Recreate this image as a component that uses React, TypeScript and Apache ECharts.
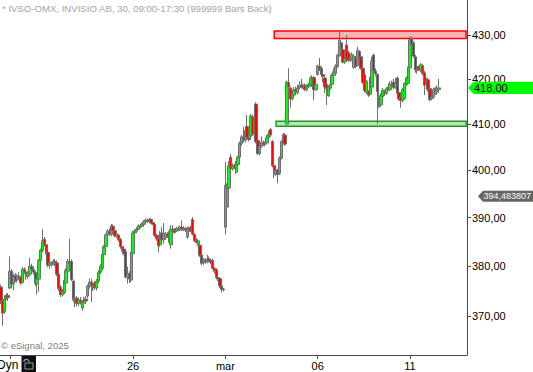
import React, { useEffect, useRef } from 'react';
import * as echarts from 'echarts';

// Trading days shown (30-minute bars, 09:00-17:00 bar starts)
const days = ['Feb 19', 'Feb 20', 'Feb 21', 'Feb 24', 'Feb 25', 'Feb 26', 'Feb 27', 'Feb 28', 'Mar 3', 'Mar 4', 'Mar 5', 'Mar 6', 'Mar 7', 'Mar 10', 'Mar 11'];
const sessionTimes = ['09:00', '09:30', '10:00', '10:30', '11:00', '11:30', '12:00', '12:30', '13:00', '13:30', '14:00', '14:30', '15:00', '15:30', '16:00', '16:30', '17:00'];

// OHLC rows: [open, high, low, close]
const feb19 = [
  [375.8, 376.3, 372.4, 373.0], [373.0, 374.0, 368.1, 370.6], [370.9, 374.2, 370.5, 373.4], [373.4, 374.5, 373.2, 374.1], [374.1, 374.6, 373.0, 373.7],
];
const feb20 = [
  [375.6, 382.0, 375.4, 379.0], [379.0, 379.4, 375.8, 376.4], [376.4, 378.5, 375.2, 377.8], [378.2, 378.6, 376.8, 377.2], [377.2, 378.4, 376.7, 378.0],
  [378.0, 378.8, 377.3, 377.8], [377.8, 378.0, 376.2, 376.6], [376.7, 379.8, 376.5, 379.4], [379.4, 379.8, 378.4, 378.8], [378.8, 379.2, 377.3, 378.0],
  [378.0, 379.0, 377.4, 378.6], [378.4, 381.7, 378.0, 380.0], [380.0, 380.5, 379.0, 379.4], [379.4, 380.0, 378.3, 378.8], [378.8, 379.0, 376.0, 376.5],
  [376.4, 378.0, 374.3, 377.4], [377.4, 381.5, 374.8, 381.2],
];
const feb21 = [
  [381.2, 383.6, 380.8, 383.3], [383.2, 387.6, 382.8, 385.2], [385.5, 386.0, 384.0, 384.4], [384.4, 384.8, 382.4, 382.8], [382.8, 383.2, 379.8, 380.2],
  [380.2, 381.2, 379.5, 380.8], [380.3, 381.0, 379.9, 380.7], [380.7, 381.4, 380.2, 381.0], [381.0, 381.5, 380.0, 380.6], [380.7, 381.2, 378.0, 378.4],
  [378.4, 378.8, 375.0, 375.5], [375.8, 376.2, 373.8, 374.3], [374.3, 375.4, 373.9, 374.9], [374.7, 377.6, 374.4, 377.2], [376.6, 379.6, 376.3, 379.2],
  [379.0, 381.5, 378.6, 381.0], [381.0, 385.6, 380.2, 380.6],
];
const feb24 = [
  [381.0, 381.4, 377.0, 377.3], [377.0, 377.3, 372.8, 373.2], [373.2, 374.2, 371.8, 373.6], [373.6, 374.0, 371.9, 372.5], [372.5, 373.5, 372.0, 373.2],
  [373.2, 373.8, 372.3, 372.8], [371.6, 373.2, 371.1, 372.8], [372.6, 373.8, 372.0, 373.4], [373.4, 374.0, 372.4, 373.0], [374.0, 376.3, 373.6, 376.0],
  [376.0, 377.5, 375.5, 376.8], [376.8, 377.4, 372.8, 376.0], [376.0, 376.8, 375.0, 375.6], [376.6, 377.0, 375.2, 375.8], [375.6, 377.4, 375.1, 377.0],
  [377.0, 379.2, 376.5, 378.8], [378.8, 380.4, 378.4, 380.0],
];
const feb25 = [
  [379.6, 382.8, 379.2, 382.4], [382.4, 384.3, 382.2, 384.0], [384.0, 386.7, 383.8, 386.4], [386.4, 387.6, 386.1, 387.2], [387.2, 387.8, 386.2, 386.6],
  [386.5, 388.7, 386.1, 388.3], [388.2, 388.6, 387.0, 387.3], [387.3, 387.6, 385.9, 386.2], [386.2, 387.0, 385.8, 386.6], [386.4, 386.6, 385.0, 385.4],
  [385.5, 385.8, 383.6, 384.0], [384.0, 384.6, 383.0, 383.5], [383.5, 384.0, 382.2, 382.6], [383.0, 383.4, 377.5, 377.8], [377.8, 379.9, 376.5, 378.5],
  [378.5, 379.0, 376.6, 377.4], [377.2, 383.0, 376.8, 382.6],
];
const feb26 = [
  [382.6, 387.3, 382.3, 386.8], [386.8, 387.6, 386.3, 387.2], [387.2, 388.0, 386.8, 387.6], [387.6, 388.6, 387.4, 388.3], [388.3, 388.7, 387.8, 388.1],
  [388.2, 389.0, 388.0, 388.6], [388.6, 389.5, 388.3, 389.1], [389.1, 389.8, 388.8, 389.5], [389.5, 389.8, 388.9, 389.2], [389.2, 389.9, 389.0, 389.6],
  [389.6, 389.9, 388.7, 388.9], [389.0, 389.4, 388.4, 388.6], [388.6, 388.8, 386.0, 386.3], [386.4, 386.6, 385.2, 385.6], [385.8, 386.4, 382.8, 384.2],
  [384.4, 387.2, 384.0, 386.8], [386.8, 388.0, 385.0, 385.4],
];
const feb27 = [
  [385.4, 388.9, 384.6, 386.8], [385.8, 387.0, 385.4, 386.6], [386.6, 387.0, 385.8, 386.2], [386.2, 387.2, 384.8, 385.0], [384.4, 388.4, 383.6, 387.6],
  [387.6, 388.4, 386.8, 387.2], [387.4, 387.8, 386.6, 386.9], [387.2, 388.1, 387.0, 387.8], [387.8, 388.2, 387.2, 387.5], [387.5, 388.3, 387.2, 388.0],
  [388.0, 389.4, 387.2, 387.5], [387.5, 388.2, 387.2, 387.8], [387.8, 388.0, 387.0, 387.4], [386.0, 388.2, 385.6, 387.6], [387.6, 388.0, 386.8, 387.2],
  [388.0, 388.3, 387.0, 387.4], [389.6, 390.1, 386.3, 386.6],
];
const feb28 = [
  [386.5, 386.8, 384.9, 385.2], [385.4, 385.8, 384.6, 384.9], [384.4, 385.5, 384.1, 385.2], [384.3, 384.6, 381.9, 382.2], [382.3, 382.6, 380.2, 380.6],
  [380.7, 381.7, 380.3, 381.3], [381.3, 381.6, 380.5, 380.9], [380.9, 382.3, 380.6, 381.5], [381.5, 382.0, 380.8, 381.2], [381.2, 381.5, 380.4, 380.8],
  [381.2, 381.5, 379.3, 379.6], [379.6, 379.8, 378.5, 379.0], [379.3, 379.6, 377.4, 377.7], [377.7, 378.0, 377.0, 377.4], [377.5, 377.8, 375.6, 376.0],
  [376.0, 376.2, 374.7, 375.3], [375.3, 375.6, 374.9, 375.4],
];
const mar3 = [
  [388.0, 401.8, 386.5, 396.8], [392.2, 397.2, 391.8, 396.2], [396.2, 402.0, 395.8, 401.0], [402.8, 403.5, 399.8, 400.3], [400.3, 401.5, 399.9, 401.0],
  [401.0, 401.4, 400.2, 400.6], [399.6, 402.0, 399.2, 401.5], [401.2, 403.1, 401.0, 402.8], [402.8, 406.2, 402.6, 405.8], [405.8, 407.6, 405.3, 407.2],
  [407.2, 409.4, 405.9, 406.5], [406.5, 409.0, 406.0, 408.6], [409.5, 412.0, 406.5, 407.0], [407.0, 408.0, 406.2, 406.6], [407.3, 412.2, 407.0, 411.8],
  [411.6, 412.0, 407.4, 407.8], [407.8, 409.0, 407.5, 408.5],
];
const mar4 = [
  [414.4, 414.8, 405.8, 406.2], [406.4, 408.2, 403.2, 403.6], [403.6, 405.6, 403.2, 405.2], [405.2, 407.3, 404.8, 406.0], [406.0, 406.4, 405.2, 405.6],
  [405.6, 406.2, 405.1, 405.9], [405.9, 407.6, 405.6, 407.0], [407.0, 408.6, 406.2, 407.8], [408.8, 409.2, 407.2, 407.6], [406.2, 406.5, 400.6, 401.0],
  [401.0, 401.5, 398.3, 399.2], [399.2, 400.4, 398.8, 400.0], [400.1, 400.3, 397.2, 399.1], [399.3, 403.0, 399.0, 402.6], [402.6, 406.5, 402.3, 406.2],
  [406.2, 408.0, 405.9, 407.7], [407.6, 408.0, 405.2, 405.6],
];
const mar5 = [
  [410.0, 419.6, 409.8, 419.3], [419.2, 422.4, 417.8, 418.2], [418.0, 418.3, 413.6, 415.5], [415.6, 417.0, 415.2, 416.6], [416.4, 418.2, 416.1, 417.6],
  [417.6, 418.3, 416.8, 417.2], [416.9, 418.7, 416.5, 418.0], [418.0, 419.5, 417.7, 418.6], [418.6, 420.0, 417.9, 418.2], [418.2, 419.0, 417.8, 418.6],
  [418.6, 419.0, 417.3, 417.6], [417.6, 418.8, 417.2, 418.4], [418.2, 419.2, 417.9, 418.8], [418.6, 420.6, 418.3, 420.2], [418.4, 420.8, 418.2, 420.3],
  [420.3, 420.6, 415.3, 417.6], [417.6, 419.2, 417.4, 418.8],
];
const mar6 = [
  [421.0, 423.2, 420.8, 422.9], [422.9, 424.7, 421.8, 422.2], [422.4, 422.8, 420.5, 421.0], [421.0, 421.6, 419.2, 420.6], [420.2, 420.6, 416.8, 418.2],
  [418.8, 419.2, 414.2, 417.8], [416.2, 418.6, 416.0, 418.2], [418.0, 419.3, 417.6, 418.8], [418.8, 421.2, 418.5, 420.8], [420.8, 422.4, 420.2, 421.6],
  [421.2, 423.3, 420.9, 422.9], [422.8, 425.7, 422.5, 425.4], [425.2, 431.0, 425.0, 428.8], [428.2, 428.6, 426.2, 426.6], [426.6, 427.0, 423.5, 423.8],
  [423.8, 425.6, 423.4, 424.6], [427.7, 430.0, 423.8, 424.2],
];
const mar7 = [
  [426.0, 426.4, 423.8, 424.2], [424.2, 425.6, 423.8, 425.2], [424.6, 426.0, 424.2, 425.5], [422.6, 425.3, 422.3, 425.0], [424.8, 425.2, 422.4, 422.8],
  [423.0, 427.3, 422.8, 426.4], [426.2, 426.5, 424.2, 424.6], [425.0, 425.3, 422.1, 422.4], [422.4, 422.8, 418.9, 419.2], [421.0, 421.3, 417.0, 417.4],
  [417.0, 419.8, 416.6, 419.5], [417.2, 417.5, 416.0, 416.4], [416.6, 420.5, 416.2, 420.0], [418.2, 425.0, 418.0, 424.0], [425.4, 425.7, 421.4, 421.8],
  [421.8, 422.4, 420.6, 421.2], [421.0, 421.3, 410.0, 417.2],
];
const mar10 = [
  [413.8, 418.0, 413.6, 416.0], [414.2, 416.8, 413.8, 416.3], [416.0, 418.0, 415.4, 417.5], [417.2, 417.6, 416.2, 416.8], [416.8, 418.2, 416.4, 417.8],
  [417.8, 419.0, 417.4, 418.2], [417.6, 419.5, 417.3, 418.8], [418.8, 419.6, 418.0, 418.6], [419.3, 420.0, 417.7, 418.1], [418.2, 420.3, 417.8, 419.0],
  [420.2, 420.6, 416.5, 416.8], [417.0, 417.3, 415.2, 415.5], [416.0, 416.3, 413.6, 415.2], [415.2, 418.0, 414.8, 417.6], [415.6, 419.3, 415.3, 419.0],
  [418.8, 420.6, 418.4, 420.2], [419.0, 422.8, 418.6, 422.5],
];
const mar11 = [
  [422.5, 429.6, 422.2, 428.9], [429.2, 429.7, 427.3, 427.7], [428.2, 428.6, 424.8, 425.1], [425.0, 425.4, 421.4, 422.0], [422.0, 423.4, 421.2, 422.8],
  [422.8, 423.0, 421.8, 422.0], [422.0, 423.6, 421.6, 423.2], [423.0, 423.4, 420.8, 421.2], [421.4, 421.8, 416.4, 418.6], [418.8, 420.3, 418.5, 420.0],
  [419.8, 420.2, 417.2, 417.6], [417.8, 418.0, 415.0, 415.4], [415.6, 417.9, 415.2, 416.0], [416.0, 418.0, 415.6, 417.6], [416.6, 418.2, 416.4, 418.0],
  [417.2, 418.6, 416.5, 417.6], [417.6, 420.0, 416.8, 418.0],
];
const dayBars = [feb19, feb20, feb21, feb24, feb25, feb26, feb27, feb28, mar3, mar4, mar5, mar6, mar7, mar10, mar11];
const emptySlotsRight = 15;

// Axis ticks
const yTickValues = [370, 380, 390, 400, 410, 420, 430];
const xTickDays = ['Feb 20', 'Feb 26', 'Mar 3', 'Mar 6', 'Mar 11'];
const xTickTexts = ['', '26', 'mar', '06', '11'];

// Horizontal zones [low, high] and their starting bar
const resistanceZone = [429.2, 430.9];
const resistanceStart = 'Mar 4 14:00';
const supportZone = [409.5, 410.6];
const supportStart = 'Mar 4 14:30';

const lastPrice = 418.0;
const indicatorValue = 394.483807;

const titleText = '* IVSO-OMX, INVISIO AB, 30, 09:00-17:30 (999999 Bars Back)';

export default function App() {
  const ref = useRef<HTMLDivElement>(null);
  useEffect(() => {
    const el = ref.current;
    if (!el) return;
    const chart = echarts.init(el, null, { renderer: 'svg' });

    const categories: string[] = [];
    const candles: number[][] = [];
    const dayFirstIndex: Record<string, number> = {};
    dayBars.forEach((bars, d) => {
      const offset = sessionTimes.length - bars.length;
      bars.forEach((b, j) => {
        if (j === 0) dayFirstIndex[days[d]] = categories.length;
        categories.push(days[d] + ' ' + sessionTimes[offset + j]);
        const [o, h, l, c] = b;
        candles.push([Math.log(o), Math.log(c), Math.log(l), Math.log(h)]);
      });
    });
    for (let k = 0; k < emptySlotsRight; k++) categories.push('pad ' + k);
    const lastCat = categories[categories.length - 1];

    const tickIndexText: Record<number, string> = {};
    xTickDays.forEach((d, k) => { tickIndexText[dayFirstIndex[d]] = xTickTexts[k]; });
    const isTick = (idx: number) => tickIndexText[idx] !== undefined;

    const axisColor = '#4a4a4a';
    const font = 'Arial, "Liberation Sans", sans-serif';

    chart.setOption({
      animation: false,
      backgroundColor: '#ffffff',
      grid: { left: 0, right: 66, top: 0, bottom: 17 },
      xAxis: {
        type: 'category',
        data: categories,
        boundaryGap: true,
        axisLine: { show: true, lineStyle: { color: axisColor, width: 1 } },
        axisTick: { show: true, alignWithLabel: true, length: 4, interval: (i: number) => isTick(i), lineStyle: { color: axisColor } },
        axisLabel: {
          interval: (i: number) => isTick(i),
          formatter: (_v: string, i: number) => tickIndexText[i] ?? '',
          color: '#000', fontSize: 11, fontFamily: font, margin: 5,
        },
        splitLine: { show: false },
      },
      yAxis: {
        type: 'value',
        position: 'right',
        min: Math.log(362.4),
        max: Math.log(438.1),
        axisLine: { show: true, lineStyle: { color: axisColor, width: 1 } },
        axisTick: { show: true, length: 4, customValues: yTickValues.map(Math.log), lineStyle: { color: axisColor } },
        axisLabel: {
          customValues: yTickValues.map(Math.log),
          formatter: (v: number) => Math.exp(v).toFixed(2).replace('.', ','),
          color: '#000', fontSize: 11, fontFamily: font, margin: 5,
        },
        splitLine: { show: false },
      },
      series: [
        {
          type: 'candlestick',
          data: candles,
          barWidth: 2.8,
          itemStyle: {
            color: '#00ff00', color0: '#ff0000',
            borderColor: '#6e6e6e', borderColor0: '#6e6e6e', borderWidth: 1,
          },
          markArea: {
            silent: true,
            data: [
              [
                { xAxis: resistanceStart, yAxis: Math.log(resistanceZone[0]), itemStyle: { color: '#f8b4b4', borderColor: '#ff0000', borderWidth: 1.5 } },
                { xAxis: lastCat, yAxis: Math.log(resistanceZone[1]) },
              ],
              [
                { xAxis: supportStart, yAxis: Math.log(supportZone[0]), itemStyle: { color: '#b6e6b6', borderColor: '#1f9a1f', borderWidth: 1.5 } },
                { xAxis: lastCat, yAxis: Math.log(supportZone[1]) },
              ],
            ],
          },
        },
      ],
    });

    const yLast = chart.convertToPixel({ yAxisIndex: 0 }, Math.log(lastPrice)) as number;
    const yInd = chart.convertToPixel({ yAxisIndex: 0 }, Math.log(indicatorValue)) as number;
    const axisX = 467;

    chart.setOption({
      graphic: [
        { type: 'text', x: 2, y: 8, z: 100, style: { text: titleText, fill: '#a4a4a4', font: '9.6px ' + font, verticalAlign: 'middle' } },
        { type: 'text', x: 1, y: 345, z: 100, style: { text: '\u00a9 eSignal, 2025', fill: '#808080', font: '9.5px ' + font, verticalAlign: 'middle' } },
        { type: 'text', x: -3, y: 365, z: 100, style: { text: 'Dyn', fill: '#000', font: '12px ' + font, verticalAlign: 'middle' } },
        { type: 'rect', z: 100, shape: { x: 21.5, y: 356, width: 14.5, height: 16 }, style: { fill: '#111111' } },
        { type: 'arc', z: 101, shape: { cx: 26.5, cy: 362, r: 2.6, startAngle: Math.PI, endAngle: Math.PI * 2 }, style: { stroke: '#9a9a9a', lineWidth: 1.2, fill: 'none' } },
        { type: 'rect', z: 101, shape: { x: 25, y: 363, width: 8, height: 6 }, style: { fill: 'none', stroke: '#9a9a9a', lineWidth: 1 } },
        {
          type: 'polygon', z: 100,
          shape: { points: [[axisX + 1, yLast], [axisX + 6.5, yLast - 6.2], [533, yLast - 6.2], [533, yLast + 6.2], [axisX + 6.5, yLast + 6.2]] },
          style: { fill: '#00ff00' },
        },
        { type: 'text', x: axisX + 7, y: yLast, z: 101, style: { text: lastPrice.toFixed(2).replace('.', ','), fill: '#000', font: '11px ' + font, verticalAlign: 'middle' } },
        {
          type: 'polygon', z: 100,
          shape: { points: [[axisX + 11, yInd], [axisX + 16, yInd - 5.6], [533, yInd - 5.6], [533, yInd + 5.6], [axisX + 16, yInd + 5.6]] },
          style: { fill: '#666666' },
        },
        { type: 'text', x: axisX + 16.5, y: yInd, z: 101, style: { text: String(indicatorValue).replace('.', ','), fill: '#ffffff', font: '9px ' + font, verticalAlign: 'middle' } },
      ],
    });

    return () => chart.dispose();
  }, []);

  return <div ref={ref} style={{ position: 'fixed', left: 0, top: 0, width: 533, height: 372, background: '#fff' }} />;
}
